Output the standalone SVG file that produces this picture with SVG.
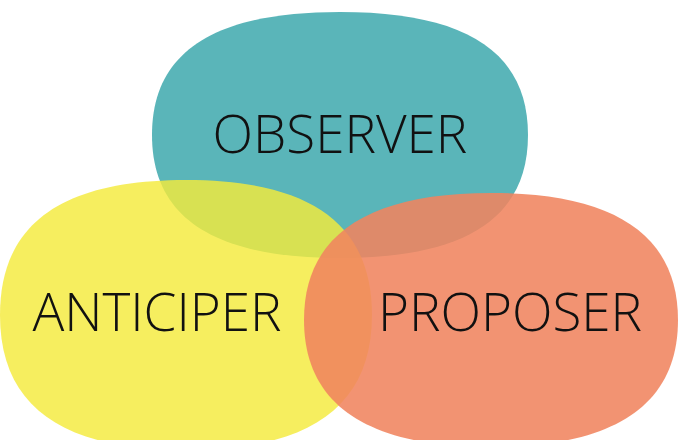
<svg xmlns="http://www.w3.org/2000/svg" width="678" height="440" viewBox="0 0 678 440">
<style>
.t{font-family:"Open Sans","Liberation Sans",sans-serif;font-weight:300;font-size:53px;fill:#111;text-anchor:middle}
</style>
<rect width="678" height="440" fill="#fff"/>
<g id="observer">
<path d="M340,12 C463,12 528,50 528,135 C528,220 463,258 340,258 C217,258 152,220 152,135 C152,50 217,12 340,12Z" fill="#5ab5b9"/>
</g>
<g id="anticiper">
<path d="M186,180 C308,180 372,222 372,315 C372,408 308,450 186,450 C64,450 0,408 0,315 C0,222 64,180 186,180Z" fill="#f4ea3c" fill-opacity="0.82"/>
</g>
<g id="proposer">
<path d="M491,193 C613,193 678,234 678,320 C678,406 613,447 491,447 C369,447 304,406 304,320 C304,234 369,193 491,193Z" fill="#f0845e" fill-opacity="0.88"/>
</g>
<g id="labels">
<text class="t" x="340" y="153">OBSERVER</text>
<text class="t" x="157" y="331">ANTICIPER</text>
<text class="t" x="510" y="331">PROPOSER</text>
</g>
<g id="connectors"/>
</svg>
